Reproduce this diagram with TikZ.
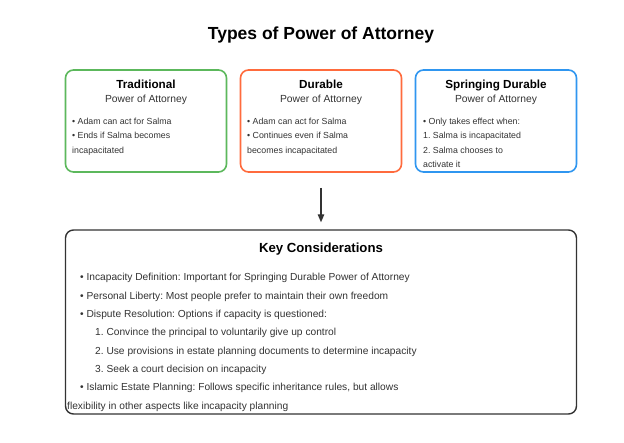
\documentclass[tikz,border=0pt]{standalone}
\usepackage{fontspec}
\setmainfont{Liberation Sans}
\usetikzlibrary{arrows.meta}
\frenchspacing
\definecolor{cgreen}{HTML}{5CB85C}
\definecolor{corange}{HTML}{FF6B3D}
\definecolor{cblue}{HTML}{2F96F0}
\definecolor{ctext}{HTML}{333333}
\tikzset{
  typebox/.style={draw=#1, line width=1.6pt, rounded corners=8pt, fill=white},
  keybox/.style={draw=ctext, line width=1.4pt, rounded corners=8pt, fill=white},
  fixh/.style={text height=0.7em, text depth=0.2em},
  boxtitle/.style={font=\fontsize{11.7}{14}\selectfont\bfseries, text=black, anchor=center, inner sep=0pt, fixh},
  boxsub/.style={font=\fontsize{10.3}{13}\selectfont, text=ctext, anchor=center, inner sep=0pt, fixh},
  boxline/.style={font=\fontsize{8.8}{10}\selectfont, text=ctext, anchor=west, inner sep=0pt, fixh},
  keyline/.style={font=\fontsize{10.2}{12}\selectfont, text=ctext, anchor=west, inner sep=0pt, fixh},
  flowarrow/.style={draw=ctext, line width=1.3pt, -{Triangle[length=8pt,width=6.5pt]}},
}
\begin{document}
\begin{tikzpicture}[x=1pt,y=-1pt]
\useasboundingbox[fill=white] (0,0) rectangle (624,443);
\node[font=\fontsize{17.5}{20}\selectfont\bfseries, inner sep=0pt, fixh] (title) at (321,37) {Types of Power of Attorney};

% boxes
\node[typebox=cgreen, minimum width=161pt, minimum height=102pt, inner sep=0pt] (trad) at (146,121) {};
\node[typebox=corange, minimum width=161pt, minimum height=102pt, inner sep=0pt] (dur) at (321,121) {};
\node[typebox=cblue, minimum width=161pt, minimum height=102pt, inner sep=0pt] (spring) at (496,121) {};

% traditional
\node[boxtitle] (t1) at (146,86) {Traditional};
\node[boxsub] (t2) at (146,100) {Power of Attorney};
\node[boxline] (t3) at (72,122) {• Adam can act for Salma};
\node[boxline] (t4) at (72,136.5) {• Ends if Salma becomes};
\node[boxline] (t5) at (72,151) {incapacitated};

% durable
\node[boxtitle] (d1) at (321,86) {Durable};
\node[boxsub] (d2) at (321,100) {Power of Attorney};
\node[boxline] (d3) at (247,122) {• Adam can act for Salma};
\node[boxline] (d4) at (247,136.5) {• Continues even if Salma};
\node[boxline] (d5) at (247,151) {becomes incapacitated};

% springing
\node[boxtitle] (s1) at (496,86) {Springing Durable};
\node[boxsub] (s2) at (496,100) {Power of Attorney};
\node[boxline] (s3) at (423,122) {• Only takes effect when:};
\node[boxline] (s4) at (423,136.5) {1. Salma is incapacitated};
\node[boxline] (s5) at (423,151) {2. Salma chooses to};
\node[boxline] (s6) at (423,165.5) {activate it};

% key box
\node[keybox, minimum width=511pt, minimum height=184pt, inner sep=0pt] (key) at (321,322) {};
\node[font=\fontsize{13.2}{16}\selectfont\bfseries, inner sep=0pt, fixh] (k0) at (321,250) {Key Considerations};
\node[keyline] (k1) at (80,278) {• Incapacity Definition: Important for Springing Durable Power of Attorney};
\node[keyline] (k2) at (80,296.7) {• Personal Liberty: Most people prefer to maintain their own freedom};
\node[keyline] (k3) at (80,315) {• Dispute Resolution: Options if capacity is questioned:};
\node[keyline] (k4) at (95,333.3) {1. Convince the principal to voluntarily give up control};
\node[keyline] (k5) at (95,351.7) {2. Use provisions in estate planning documents to determine incapacity};
\node[keyline] (k6) at (95,370) {3. Seek a court decision on incapacity};
\node[keyline] (k7) at (80,388.3) {• Islamic Estate Planning: Follows specific inheritance rules, but allows};
\node[keyline] (k8) at (67,406.7) {flexibility in other aspects like incapacity planning};

\draw[flowarrow] ([yshift=-15pt]dur.south) -- ([yshift=7pt]key.north);
\end{tikzpicture}
\end{document}
